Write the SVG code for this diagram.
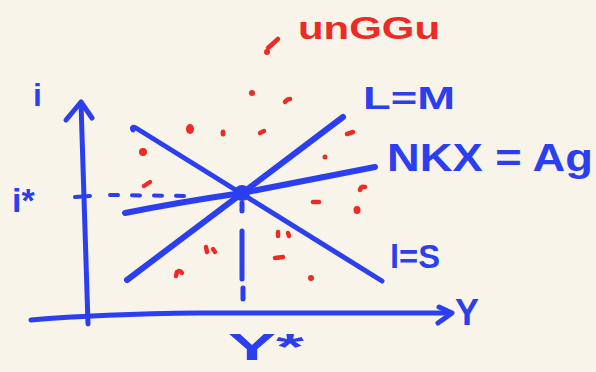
<svg xmlns="http://www.w3.org/2000/svg" width="596" height="372" viewBox="0 0 596 372">
<style>
.b{stroke:#2b3ff0;fill:none;stroke-linecap:round;stroke-linejoin:round}
.t{fill:#2b3ff0;font-family:"Liberation Sans",Arial,sans-serif;font-weight:bold}
.r{fill:#ee2a24}
.rs{stroke:#ee2a24;fill:none;stroke-linecap:round;stroke-width:4.5}
</style>
<rect width="596" height="372" fill="#f8f4ea"/>
<g id="axes">
<path class="b" stroke-width="5" d="M81 103 Q84 200 88 324"/>
<path class="b" stroke-width="5" d="M66 120 L81 102 L92 118"/>
<path class="b" stroke-width="5" d="M31 320 Q100 314 200 313 L450 313"/>
<path class="b" stroke-width="5" d="M439 307 L452 313 L438 323"/>
<path class="b" stroke-width="4" d="M75 197 L90 196"/>
</g>
<g id="is-curve">
<path class="b" stroke-width="5" d="M133 130 Q131 126 136 128 L382 281"/>
</g>
<g id="lm-curve">
<path class="b" stroke-width="6" d="M127 280 L343 117"/>
</g>
<g id="nkx-curve">
<path class="b" stroke-width="6" d="M125 213 Q180 202 242 193 L375 167"/>
</g>
<g id="equilibrium">
<circle cx="242" cy="193" r="8" fill="#2b3ff0"/>
</g>
<g id="connectors">
<path class="b" stroke-width="4" stroke-dasharray="8 14" d="M110 195 L188 196"/>
<path class="b" stroke-width="5" d="M242 203 L242 211 M242 231 L242 279 M243 288 L243 299"/>
</g>
<g id="labels">
<text class="t" x="33" y="106" font-size="32">i</text>
<text class="t" x="12" y="212" font-size="34">i*</text>
<text class="t" x="363" y="109" font-size="32" textLength="92" lengthAdjust="spacingAndGlyphs">L=M</text>
<text class="t" x="387" y="171" font-size="38" textLength="206" lengthAdjust="spacingAndGlyphs">NKX = Ag</text>
<text class="t" x="390" y="268" font-size="34" textLength="50" lengthAdjust="spacingAndGlyphs">l=S</text>
<text class="t" x="455" y="325" font-size="36">Y</text>
<text class="t" x="228" y="360" font-size="36" textLength="76" lengthAdjust="spacingAndGlyphs">Y*</text>
<text x="298" y="39" font-size="32" textLength="142" lengthAdjust="spacingAndGlyphs" fill="#ee2a24" font-family="'Liberation Sans',Arial,sans-serif" font-weight="bold">unGGu</text>
</g>
<g id="disequilibrium-marks">
<path class="rs" d="M278 39 L268 48"/>
<circle class="r" cx="267" cy="52" r="3"/>
<circle class="r" cx="252" cy="93" r="3"/>
<path class="rs" d="M285 102 Q287 99 290 99"/>
<ellipse class="r" cx="190" cy="129" rx="4" ry="5"/>
<ellipse class="r" cx="223" cy="133" rx="2.5" ry="3.5"/>
<path class="rs" d="M260 133 L264 131"/>
<path class="rs" d="M347 134 L353 132"/>
<circle class="r" cx="143" cy="152" r="4"/>
<circle class="r" cx="325" cy="157" r="2.5"/>
<path class="rs" d="M144 186 L150 182"/>
<path class="rs" d="M360 190 Q361 186 365 187"/>
<path class="rs" d="M313 202 L319 202"/>
<ellipse class="r" cx="357" cy="210" rx="3.5" ry="4"/>
<path class="rs" d="M278 232 L278 236 M288 233 L289 236"/>
<path class="rs" d="M206 247 L207 252 M213 249 L215 252"/>
<path class="rs" d="M275 258 L283 257"/>
<path class="rs" d="M176 276 L177 272 Q180 270 182 273"/>
<circle class="r" cx="311" cy="278" r="3"/>
</g>
</svg>
